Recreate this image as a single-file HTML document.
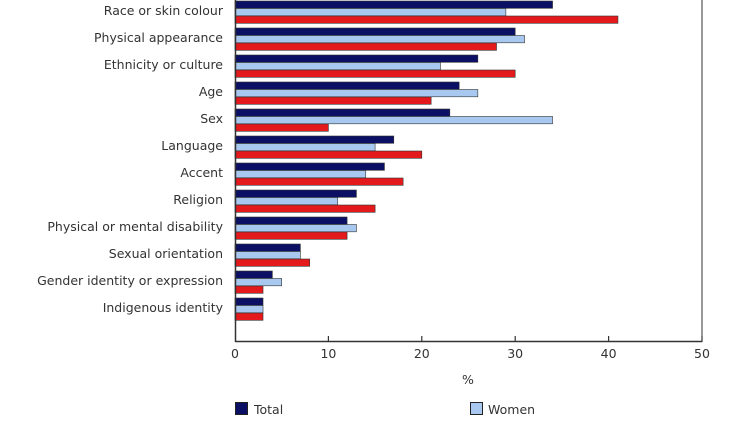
<!DOCTYPE html>
<html><head><meta charset="utf-8"><style>body{margin:0;background:#fff}</style></head><body>
<svg width="740" height="416" xmlns="http://www.w3.org/2000/svg" font-family="DejaVu Sans, Liberation Sans, sans-serif" font-size="12.5" fill="#333">
<g stroke="#333" stroke-width="0.6">
<rect x="235" y="1" width="317.56" height="7.3" fill="#0b1064"/><rect x="235" y="8.5" width="270.86" height="7.3" fill="#a8c8ef"/><rect x="235" y="16" width="382.94" height="7.3" fill="#e3191c"/>
<rect x="235" y="28" width="280.2" height="7.3" fill="#0b1064"/><rect x="235" y="35.5" width="289.54" height="7.3" fill="#a8c8ef"/><rect x="235" y="43" width="261.52" height="7.3" fill="#e3191c"/>
<rect x="235" y="55" width="242.84" height="7.3" fill="#0b1064"/><rect x="235" y="62.5" width="205.48" height="7.3" fill="#a8c8ef"/><rect x="235" y="70" width="280.2" height="7.3" fill="#e3191c"/>
<rect x="235" y="82" width="224.16" height="7.3" fill="#0b1064"/><rect x="235" y="89.5" width="242.84" height="7.3" fill="#a8c8ef"/><rect x="235" y="97" width="196.14" height="7.3" fill="#e3191c"/>
<rect x="235" y="109" width="214.82" height="7.3" fill="#0b1064"/><rect x="235" y="116.5" width="317.56" height="7.3" fill="#a8c8ef"/><rect x="235" y="124" width="93.4" height="7.3" fill="#e3191c"/>
<rect x="235" y="136" width="158.78" height="7.3" fill="#0b1064"/><rect x="235" y="143.5" width="140.1" height="7.3" fill="#a8c8ef"/><rect x="235" y="151" width="186.8" height="7.3" fill="#e3191c"/>
<rect x="235" y="163" width="149.44" height="7.3" fill="#0b1064"/><rect x="235" y="170.5" width="130.76" height="7.3" fill="#a8c8ef"/><rect x="235" y="178" width="168.12" height="7.3" fill="#e3191c"/>
<rect x="235" y="190" width="121.42" height="7.3" fill="#0b1064"/><rect x="235" y="197.5" width="102.74" height="7.3" fill="#a8c8ef"/><rect x="235" y="205" width="140.1" height="7.3" fill="#e3191c"/>
<rect x="235" y="217" width="112.08" height="7.3" fill="#0b1064"/><rect x="235" y="224.5" width="121.42" height="7.3" fill="#a8c8ef"/><rect x="235" y="232" width="112.08" height="7.3" fill="#e3191c"/>
<rect x="235" y="244" width="65.38" height="7.3" fill="#0b1064"/><rect x="235" y="251.5" width="65.38" height="7.3" fill="#a8c8ef"/><rect x="235" y="259" width="74.72" height="7.3" fill="#e3191c"/>
<rect x="235" y="271" width="37.36" height="7.3" fill="#0b1064"/><rect x="235" y="278.5" width="46.7" height="7.3" fill="#a8c8ef"/><rect x="235" y="286" width="28.02" height="7.3" fill="#e3191c"/>
<rect x="235" y="298" width="28.02" height="7.3" fill="#0b1064"/><rect x="235" y="305.5" width="28.02" height="7.3" fill="#a8c8ef"/><rect x="235" y="313" width="28.02" height="7.3" fill="#e3191c"/>
</g>
<line x1="235.5" y1="0" x2="235.5" y2="342" stroke="#333" stroke-width="1.5"/>
<line x1="702" y1="0" x2="702" y2="342" stroke="#333" stroke-width="1"/>
<line x1="235" y1="341.5" x2="702" y2="341.5" stroke="#333" stroke-width="1.5"/>
<g stroke="#333" stroke-width="1.2">
<line x1="328.4" y1="336" x2="328.4" y2="342"/><line x1="421.8" y1="336" x2="421.8" y2="342"/><line x1="515.2" y1="336" x2="515.2" y2="342"/><line x1="608.6" y1="336" x2="608.6" y2="342"/><line x1="702" y1="336" x2="702" y2="342"/>
</g>
<g text-anchor="middle">
<text x="235" y="358">0</text><text x="328.4" y="358">10</text><text x="421.8" y="358">20</text><text x="515.2" y="358">30</text><text x="608.6" y="358">40</text><text x="702" y="358">50</text>
<text x="468" y="384">%</text>
</g>
<rect x="235.5" y="402.5" width="12" height="12" fill="#0b1064" stroke="#222"/>
<text x="254" y="414">Total</text>
<rect x="470.5" y="402.5" width="12" height="12" fill="#a8c8ef" stroke="#222"/>
<text x="488" y="414">Women</text>
<g text-anchor="end">
<text x="223" y="15">Race or skin colour</text>
<text x="223" y="42">Physical appearance</text>
<text x="223" y="69">Ethnicity or culture</text>
<text x="223" y="96">Age</text>
<text x="223" y="123">Sex</text>
<text x="223" y="150">Language</text>
<text x="223" y="177">Accent</text>
<text x="223" y="204">Religion</text>
<text x="223" y="231">Physical or mental disability</text>
<text x="223" y="258">Sexual orientation</text>
<text x="223" y="285">Gender identity or expression</text>
<text x="223" y="312">Indigenous identity</text>
</g>
</svg>
</body></html>
